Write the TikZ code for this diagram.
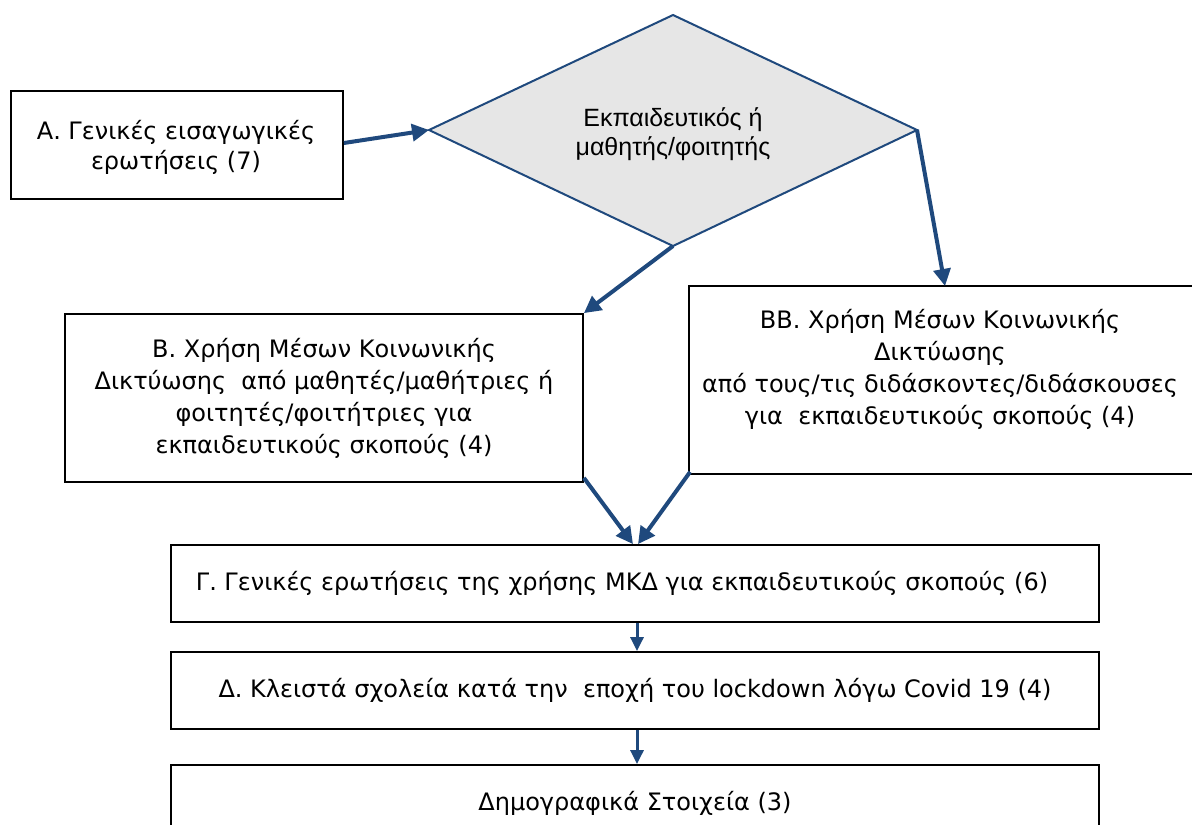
\documentclass[tikz,border=0pt]{standalone}
\usepackage{fontspec}
\setmainfont{DejaVu Sans}
\newfontfamily\arialfont{Liberation Sans}
\usetikzlibrary{arrows.meta}
\definecolor{arrowblue}{HTML}{1F497D}
\definecolor{dfill}{HTML}{E6E6E6}
\begin{document}
\begin{tikzpicture}[x=1pt,y=-1pt,
  box/.style={draw=black, line width=1.8pt, inner sep=0pt, align=center, font=\fontsize{24}{32}\selectfont},
  txt/.style={inner sep=0pt, align=center, font=\fontsize{24}{32}\selectfont},
  conn/.style={arrowblue, line width=4pt, -{Triangle[length=17pt,width=17pt]}},
  small/.style={arrowblue, line width=3pt, -{Triangle[length=14pt,width=13pt]}}]
\useasboundingbox (0,0) rectangle (1192,825);
\clip (0,0) rectangle (1192,825);
% diamond
\coordinate (dT) at (673,15);
\coordinate (dL) at (429,130);
\coordinate (dR) at (917,130);
\coordinate (dB) at (673,246);
\draw[arrowblue, line width=2pt, fill=dfill] (dT)--(dR)--(dB)--(dL)--cycle;
\node[inner sep=0pt, align=center, font=\arialfont\fontsize{25}{29}\selectfont] (D) at (673,134) {Εκπαιδευτικός ή\\μαθητής/φοιτητής};
% boxes
\node[box, minimum width=332pt, minimum height=108pt] (A) at (177,145) {};
\node[txt, font=\fontsize{24}{30}\selectfont] (At) at (176,147) {Α. Γενικές εισαγωγικές\\ερωτήσεις (7)};
\node[box, minimum width=518pt, minimum height=168pt] (B) at (324,398) {Β. Χρήση Μέσων Κοινωνικής\\Δικτύωσης~ από μαθητές/μαθήτριες ή\\φοιτητές/φοιτήτριες για\\εκπαιδευτικούς σκοπούς (4)};
\node[draw=black, line width=1.8pt, minimum width=510pt, minimum height=188pt] (BB) at (944,380) {};
\node[txt] (BBt) at (940,369) {ΒΒ. Χρήση Μέσων Κοινωνικής\\Δικτύωσης\\από τους/τις διδάσκοντες/διδάσκουσες\\για~ εκπαιδευτικούς σκοπούς (4)};
\node[box, minimum width=928pt, minimum height=77pt] (G) at (635,583.5) {};
\node[txt] (Gt) at (622,583) {Γ. Γενικές ερωτήσεις της χρήσης ΜΚΔ για εκπαιδευτικούς σκοπούς (6)};
\node[box, minimum width=928pt, minimum height=77pt] (Dl) at (635,690.5) {Δ. Κλειστά σχολεία κατά την~ εποχή του lockdown λόγω Covid 19 (4)};
\node[box, minimum width=928pt, minimum height=77pt] (E) at (635,803.5) {Δημογραφικά Στοιχεία (3)};
% connectors
\coordinate (bbin) at (945,286);
\draw[conn] ([yshift=2pt]A.east) -- (dL);
\draw[conn] (dB) -- (B.north east);
\draw[conn] (dR) -- (bbin);
\draw[conn] ([yshift=5pt]B.south east) -- ([xshift=-2pt]G.north);
\draw[conn] ([shift={(2pt,3pt)}]BB.south west) -- ([xshift=3pt]G.north);
\draw[small] ([xshift=2pt]G.south) -- ([xshift=2pt]Dl.north);
\draw[small] ([xshift=2pt]Dl.south) -- ([xshift=2pt]E.north);
\end{tikzpicture}
\end{document}
